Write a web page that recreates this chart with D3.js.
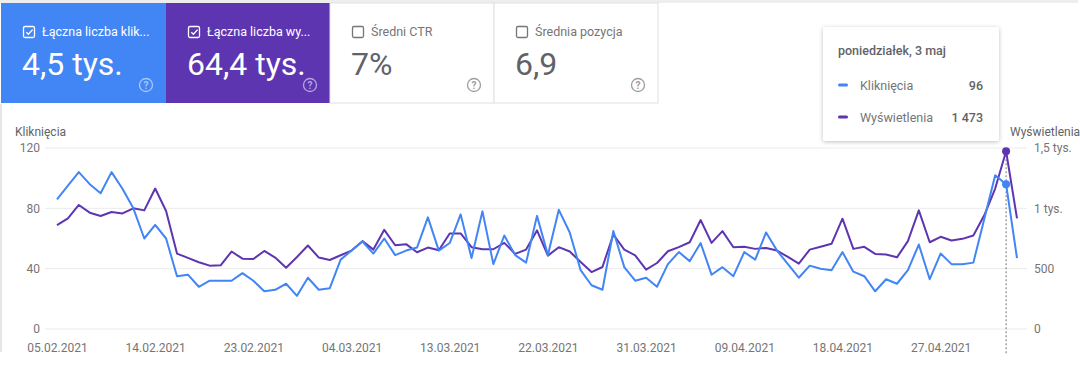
<!DOCTYPE html>
<html><head><meta charset="utf-8">
<script src="https://cdn.jsdelivr.net/npm/d3@7"></script>
<style>
html,body{margin:0;padding:0;background:#fff;}
svg{display:block;font-family:Roboto,"Noto Sans",sans-serif;}
</style></head>
<body><svg id="c" width="1080" height="365"></svg>
<script>
const startDate = "2021-02-05";
const endDate = "2021-05-04";
const clicks = [86,95,104,96,90,104,93,80,60,69,60,35,36,28,32,32,32,37,32,25,26,30,22,34,26,27,46,52,58,50,60,49,52,54,74,52,57,76,47,78,43,62,49,44,75,49,79,64,39,29,26,65,41,32,34,28,43,51,45,57,36,41,35,51,46,64,52,43,34,42,40,39,51,38,35,25,33,30,39,56,33,50,43,43,44,73,102,96,47];
const impressions = [861,917,1028,964,936,970,958,1000,983,1164,978,625,589,553,525,528,642,583,580,647,592,508,597,692,592,572,611,650,728,658,822,694,703,636,675,653,792,792,678,661,661,714,622,658,817,608,678,642,556,472,514,783,658,611,492,547,644,678,719,903,714,811,678,681,664,672,650,597,542,658,681,706,914,664,681,622,617,594,728,983,719,764,733,747,775,942,1164,1473,917];
const xTickLabels = ["05.02.2021","14.02.2021","23.02.2021","04.03.2021","13.03.2021","22.03.2021","31.03.2021","09.04.2021","18.04.2021","27.04.2021"];
const leftTicks = [0,40,80,120];
const rightTicks = [0,500,1000,1500];
const rightTickLabels = ["0","500","1 tys.","1,5 tys."];
const cardLabels = ["Łączna liczba klik...","Łączna liczba wy...","Średni CTR","Średnia pozycja"];
const cardValues = ["4,5 tys.","64,4 tys.","7%","6,9"];
const cardChecked = [true,true,false,false];
const tooltipTitle = "poniedziałek, 3 maj";
const tooltipIndex = 87;

const parse = d3.timeParse("%Y-%m-%d");
const dates = d3.timeDay.range(parse(startDate), d3.timeDay.offset(parse(endDate),1));
const tickParse = d3.timeParse("%d.%m.%Y");

const BLUE="#4285f4", PURPLE="#5e35b1";
const svg = d3.select("#c");

// page frame
svg.append("rect").attr("x",0).attr("y",0).attr("width",1078).attr("height",3).attr("fill","#eeeeee");
svg.append("rect").attr("x",0).attr("y",104).attr("width",2).attr("height",248).attr("fill","#e6e6e6");

// cards
const cardX = [1,166,330,494], cardW = [165,164,164,164];
const cardFill = [BLUE,PURPLE,"#fff","#fff"];
const cards = svg.append("g");
cardX.forEach((cx,i)=>{
  const g = cards.append("g").attr("transform",`translate(${cx},3)`);
  g.append("rect").attr("width",cardW[i]).attr("height",100).attr("fill",cardFill[i])
    .attr("stroke",i>1?"#e0e0e0":"none");
  const fg = i<2 ? "#fff" : "#5f6368";
  g.append("rect").attr("x",22.5).attr("y",23.5).attr("width",11).attr("height",11).attr("rx",1.5)
    .attr("fill","none").attr("stroke",i<2?"#fff":"#757575").attr("stroke-width",1.3);
  if(cardChecked[i]) g.append("path").attr("d","M25.3 29.2 L27.4 31.3 L31.6 26.6").attr("fill","none").attr("stroke","#fff").attr("stroke-width",1.4);
  g.append("text").attr("x",41).attr("y",33).attr("font-size",12.5).attr("fill",i<2?"#fff":"#757575").text(cardLabels[i]);
  g.append("text").attr("x",21).attr("y",72).attr("font-size",32).attr("fill",fg).text(cardValues[i]);
  const hc = i<2 ? "rgba(255,255,255,0.55)" : "#9e9e9e";
  g.append("circle").attr("cx",cardW[i]-20).attr("cy",82).attr("r",6.5).attr("fill","none").attr("stroke",hc).attr("stroke-width",1.3);
  g.append("text").attr("x",cardW[i]-20).attr("y",86).attr("text-anchor","middle").attr("font-size",10).attr("font-weight",700).attr("fill",hc).text("?");
});

// scales
const x = d3.scaleTime().domain([dates[0], dates[dates.length-1]]).range([57,1017]);
const yL = d3.scaleLinear().domain([0,120]).range([329,148]);
const yR = d3.scaleLinear().domain([0,1500]).range([329,148]);

// grid
svg.append("g").selectAll("line").data(leftTicks).join("line")
  .attr("x1",45).attr("x2",1027).attr("y1",d=>yL(d)).attr("y2",d=>yL(d))
  .attr("stroke","#ebebeb").attr("stroke-width",1);

// axes
const axL = d3.axisLeft(yL).tickValues(leftTicks).tickSize(0).tickPadding(0);
svg.append("g").attr("transform","translate(40,0)").call(axL)
  .call(g=>g.select(".domain").remove())
  .call(g=>g.selectAll("text").attr("font-size",12).attr("fill","#757575").attr("font-family","Roboto"));
const axR = d3.axisRight(yR).tickValues(rightTicks).tickSize(0).tickPadding(0).tickFormat((d,i)=>rightTickLabels[i]);
svg.append("g").attr("transform","translate(1034,0)").call(axR)
  .call(g=>g.select(".domain").remove())
  .call(g=>g.selectAll("text").attr("font-size",12).attr("fill","#757575").attr("font-family","Roboto"));
const axB = d3.axisBottom(x).tickValues(xTickLabels.map(s=>tickParse(s))).tickSize(0).tickPadding(0).tickFormat((d,i)=>xTickLabels[i]);
svg.append("g").attr("transform","translate(0,343)").call(axB)
  .call(g=>g.select(".domain").remove())
  .call(g=>g.selectAll("text").attr("font-size",12).attr("fill","#757575").attr("font-family","Roboto"));

svg.append("text").attr("x",15).attr("y",136).attr("font-size",12).attr("fill","#5f6368").text("Kliknięcia");
svg.append("text").attr("x",1010).attr("y",136).attr("font-size",12).attr("fill","#5f6368").text("Wyświetlenia");

// hover line
const hx = x(dates[tooltipIndex]);
svg.append("line").attr("x1",hx).attr("x2",hx).attr("y1",yR(impressions[tooltipIndex])).attr("y2",355)
  .attr("stroke","#757575").attr("stroke-width",1).attr("stroke-dasharray","2,2");

// lines
const lineL = d3.line().x((d,i)=>x(dates[i])).y(d=>yL(d));
const lineR = d3.line().x((d,i)=>x(dates[i])).y(d=>yR(d));
svg.append("path").datum(impressions).attr("d",lineR).attr("fill","none").attr("stroke",PURPLE).attr("stroke-width",2).attr("stroke-linejoin","round");
svg.append("path").datum(clicks).attr("d",lineL).attr("fill","none").attr("stroke",BLUE).attr("stroke-width",2).attr("stroke-linejoin","round");
svg.append("circle").attr("cx",hx).attr("cy",yL(clicks[tooltipIndex])).attr("r",4).attr("fill",BLUE);
svg.append("circle").attr("cx",hx).attr("cy",yR(impressions[tooltipIndex])).attr("r",4).attr("fill",PURPLE);

// tooltip
const defs = svg.append("defs");
const f = defs.append("filter").attr("id","sh").attr("x","-20%").attr("y","-20%").attr("width","140%").attr("height","140%");
f.append("feDropShadow").attr("dx",0).attr("dy",1).attr("stdDeviation",2).attr("flood-color","#000").attr("flood-opacity",0.25);
const tt = svg.append("g").attr("transform","translate(823,27)");
tt.append("rect").attr("width",176).attr("height",114).attr("rx",2).attr("fill","#fff").attr("filter","url(#sh)");
tt.append("text").attr("x",15).attr("y",28).attr("font-size",12.5).attr("font-weight",500).attr("fill","#5f6368").text(tooltipTitle);
const rows = [["Kliknięcia", BLUE, d3.format(",")(clicks[tooltipIndex])],["Wyświetlenia", PURPLE, d3.format(",")(impressions[tooltipIndex]).replace(/,/g," ")]];
rows.forEach((r,i)=>{
  const yy = 58 + i*32;
  tt.append("rect").attr("x",15).attr("y",yy-1.5).attr("width",10).attr("height",3).attr("rx",1.5).attr("fill",r[1]);
  tt.append("text").attr("x",37).attr("y",yy+4.5).attr("font-size",12.5).attr("fill","#757575").text(r[0]);
  tt.append("text").attr("x",160).attr("y",yy+4.5).attr("text-anchor","end").attr("font-size",12.5).attr("font-weight",500).attr("fill","#5f6368").text(r[2]);
});
</script></body></html>
